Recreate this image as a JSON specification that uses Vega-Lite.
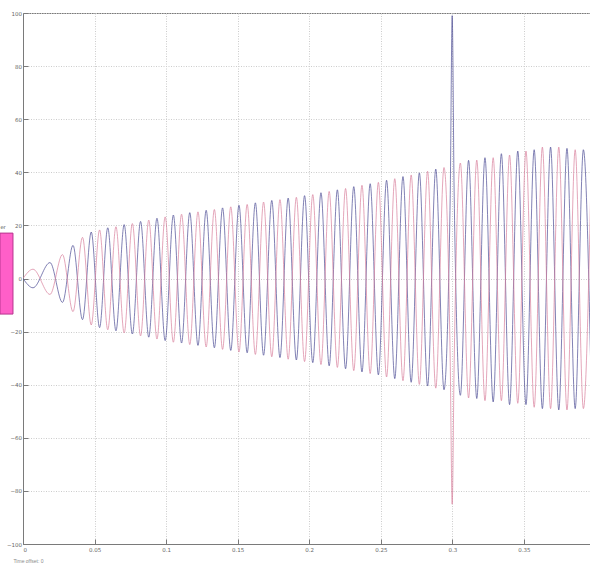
{
  "$schema": "https://vega.github.io/schema/vega-lite/v6.json",
  "width": 567,
  "height": 531,
  "autosize": "none",
  "padding": {"left": 23, "top": 13, "right": 0, "bottom": 19},
  "background": "white",
  "config": {
    "view": {"stroke": "#7a7a7a", "strokeWidth": 1},
    "axis": {
      "domainColor": "#7a7a7a",
      "tickColor": "#7a7a7a",
      "tickSize": -5,
      "gridColor": "#cccccc",
      "gridDash": [1, 1.5],
      "gridWidth": 1,
      "labelFont": "DejaVu Sans",
      "labelFontSize": 5.5,
      "labelColor": "#666666"
    }
  },
  "data": {
    "values": [
      {"t": 0, "a": 0, "b": 0},
      {"t": 0.00699, "a": -3.5, "b": 3.5},
      {"t": 0.01887, "a": 6, "b": -6},
      {"t": 0.0276, "a": -9, "b": 9},
      {"t": 0.03494, "a": 12.5, "b": -12.5},
      {"t": 0.04158, "a": -15.5, "b": 15.5},
      {"t": 0.04769, "a": 17.5, "b": -17.5},
      {"t": 0.0535, "a": -18.5, "b": 18.3},
      {"t": 0.05923, "a": 19.1, "b": -19.3},
      {"t": 0.06496, "a": -19.7, "b": 19.5},
      {"t": 0.07069, "a": 20.3, "b": -20.5},
      {"t": 0.07642, "a": -20.9, "b": 20.7},
      {"t": 0.08215, "a": 21.5, "b": -21.6},
      {"t": 0.08788, "a": -22.1, "b": 22.0},
      {"t": 0.09361, "a": 22.7, "b": -22.8},
      {"t": 0.09934, "a": -23.4, "b": 23.2},
      {"t": 0.10507, "a": 23.9, "b": -24.0},
      {"t": 0.1108, "a": -24.3, "b": 24.2},
      {"t": 0.11653, "a": 24.8, "b": -24.9},
      {"t": 0.12226, "a": -25.2, "b": 25.1},
      {"t": 0.12799, "a": 25.7, "b": -25.8},
      {"t": 0.13372, "a": -26.1, "b": 26.0},
      {"t": 0.13945, "a": 26.6, "b": -26.7},
      {"t": 0.14518, "a": -27.1, "b": 27.0},
      {"t": 0.15091, "a": 27.6, "b": -27.7},
      {"t": 0.15664, "a": -28.0, "b": 27.9},
      {"t": 0.16237, "a": 28.5, "b": -28.6},
      {"t": 0.1681, "a": -28.9, "b": 28.8},
      {"t": 0.17383, "a": 29.4, "b": -29.5},
      {"t": 0.17956, "a": -29.8, "b": 29.7},
      {"t": 0.18529, "a": 30.3, "b": -30.4},
      {"t": 0.19102, "a": -30.7, "b": 30.6},
      {"t": 0.19675, "a": 31.2, "b": -31.3},
      {"t": 0.20248, "a": -31.7, "b": 31.6},
      {"t": 0.20821, "a": 32.3, "b": -32.4},
      {"t": 0.21394, "a": -32.9, "b": 32.8},
      {"t": 0.21967, "a": 33.4, "b": -33.5},
      {"t": 0.2254, "a": -34.0, "b": 33.9},
      {"t": 0.23113, "a": 34.6, "b": -34.7},
      {"t": 0.23686, "a": -35.2, "b": 35.1},
      {"t": 0.24259, "a": 35.7, "b": -35.8},
      {"t": 0.24832, "a": -36.3, "b": 36.2},
      {"t": 0.25405, "a": 37.0, "b": -37.1},
      {"t": 0.25978, "a": -37.7, "b": 37.6},
      {"t": 0.26551, "a": 38.4, "b": -38.5},
      {"t": 0.27124, "a": -39.1, "b": 39.0},
      {"t": 0.27697, "a": 39.8, "b": -39.9},
      {"t": 0.2827, "a": -40.5, "b": 40.4},
      {"t": 0.28843, "a": 41.2, "b": -41.3},
      {"t": 0.29416, "a": -41.9, "b": 41.8},
      {"t": 0.2985, "a": 30, "b": -30},
      {"t": 0.29989, "a": 99, "b": -85},
      {"t": 0.3013, "a": 31, "b": -31},
      {"t": 0.30562, "a": -44.0, "b": 43.5},
      {"t": 0.31135, "a": 44.5, "b": -45.0},
      {"t": 0.31708, "a": -45.2, "b": 44.6},
      {"t": 0.32281, "a": 45.5, "b": -46.0},
      {"t": 0.32854, "a": -46.5, "b": 45.5},
      {"t": 0.33427, "a": 47.0, "b": -46.0},
      {"t": 0.34, "a": -47.5, "b": 46.5},
      {"t": 0.34573, "a": 48.0, "b": -47.0},
      {"t": 0.35146, "a": -47.5, "b": 48.0},
      {"t": 0.35719, "a": 48.5, "b": -48.5},
      {"t": 0.36292, "a": -49.0, "b": 49.5},
      {"t": 0.36865, "a": 49.5, "b": -49.0},
      {"t": 0.37438, "a": -49.5, "b": 49.5},
      {"t": 0.38011, "a": 49.0, "b": -49.5},
      {"t": 0.38584, "a": -49.0, "b": 48.5},
      {"t": 0.39157, "a": 48.5, "b": -49.0},
      {"t": 0.3973, "a": -48.5, "b": 48.5}
    ]
  },
  "layer": [
    {
      "transform": [{"fold": ["a", "b"], "as": ["s", "v"]}],
      "mark": {"type": "line", "interpolate": "monotone", "strokeWidth": 0.7, "clip": true},
      "encoding": {
        "x": {
          "field": "t",
          "type": "quantitative",
          "scale": {"domain": [0, 0.3962], "nice": false, "zero": false},
          "axis": {
            "values": [0, 0.05, 0.1, 0.15, 0.2, 0.25, 0.3, 0.35],
            "format": "~g",
            "labelPadding": 8,
            "title": "Time offset: 0",
            "titleFontSize": 5,
            "titleFontWeight": "normal",
            "titleColor": "#8a8a8a",
            "titleAnchor": "start",
            "titleAlign": "left",
            "titleBaseline": "top",
            "titleX": -10,
            "titleY": 14
          }
        },
        "y": {
          "field": "v",
          "type": "quantitative",
          "scale": {"domain": [-100, 100], "nice": false},
          "axis": {
            "values": [-100, -80, -60, -40, -20, 0, 20, 40, 60, 80, 100],
            "labelPadding": 6.5,
            "title": null
          }
        },
        "color": {
          "field": "s",
          "type": "nominal",
          "scale": {"domain": ["a", "b"], "range": ["#4a4a94", "#d97f9c"]},
          "legend": null
        }
      }
    },
    {
      "data": {"values": [{}]},
      "mark": {"type": "rect", "fill": "#ff5fc8", "stroke": "#b8348e", "strokeWidth": 1, "clip": false},
      "encoding": {
        "x": {"datum": -0.0161},
        "x2": {"datum": -0.007},
        "y": {"datum": 17.1},
        "y2": {"datum": -13.4}
      }
    },
    {
      "data": {"values": [{"label": "er"}]},
      "mark": {"type": "text", "align": "left", "baseline": "bottom", "fontSize": 5, "font": "DejaVu Sans", "color": "#444444", "clip": false},
      "encoding": {
        "x": {"datum": -0.0158},
        "y": {"datum": 18.3},
        "text": {"field": "label"}
      }
    }
  ]
}
